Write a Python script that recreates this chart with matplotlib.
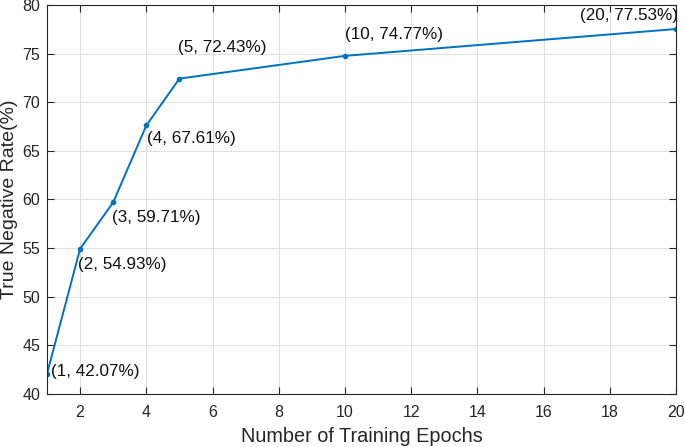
import matplotlib
matplotlib.use('Agg')
from matplotlib import pyplot as plt

epochs = [1, 2, 3, 4, 5, 10, 20]
tnr = [42.07, 54.93, 59.71, 67.61, 72.43, 74.77, 77.53]
# label offsets in pixels (dx, dy), horizontal alignment
offsets = [(4, 2, 'left'), (-2, -16, 'left'), (-1, -15, 'left'),
           (1, -13, 'left'), (-1, 31, 'left'), (0, 21, 'left'),
           (2, 14, 'right')]

plt.rcParams['font.family'] = ['Liberation Sans', 'DejaVu Sans']

fig = plt.figure(figsize=(6.85, 4.47), dpi=100)
ax = fig.add_axes([47 / 685, 53 / 447, 629 / 685, 389 / 447])

line_color = '#0072BD'
ax.plot(epochs, tnr, color=line_color, linewidth=1.4, marker='o',
        markersize=3)

for x, y, (dx, dy, ha) in zip(epochs, tnr, offsets):
    ax.annotate('(%d, %.2f%%)' % (x, y), xy=(x, y), xytext=(dx, dy),
                textcoords='offset pixels', ha=ha, va='center',
                fontsize=12.3, color='#111111')

ax.set_xlim(1, 20)
ax.set_ylim(40, 80)
ax.set_xticks([2, 4, 6, 8, 10, 12, 14, 16, 18, 20])
ax.set_yticks(range(40, 81, 5))
ax.grid(True, color='#e0e0e0', linewidth=0.7)
ax.set_axisbelow(True)

for side in ax.spines.values():
    side.set_color('#262626')
    side.set_linewidth(0.8)
ax.tick_params(direction='in', length=5, width=0.8, colors='#262626',
               labelsize=11.5, top=True, right=True)
ax.tick_params(axis='x', pad=8)
ax.tick_params(axis='y', pad=5)

ax.set_xlabel('Number of Training Epochs', fontsize=14.3, color='#262626',
              labelpad=5)
ax.set_ylabel('True Negative Rate(%)', fontsize=14, color='#262626',
              labelpad=3)

fig.savefig('out.png', dpi=100)
